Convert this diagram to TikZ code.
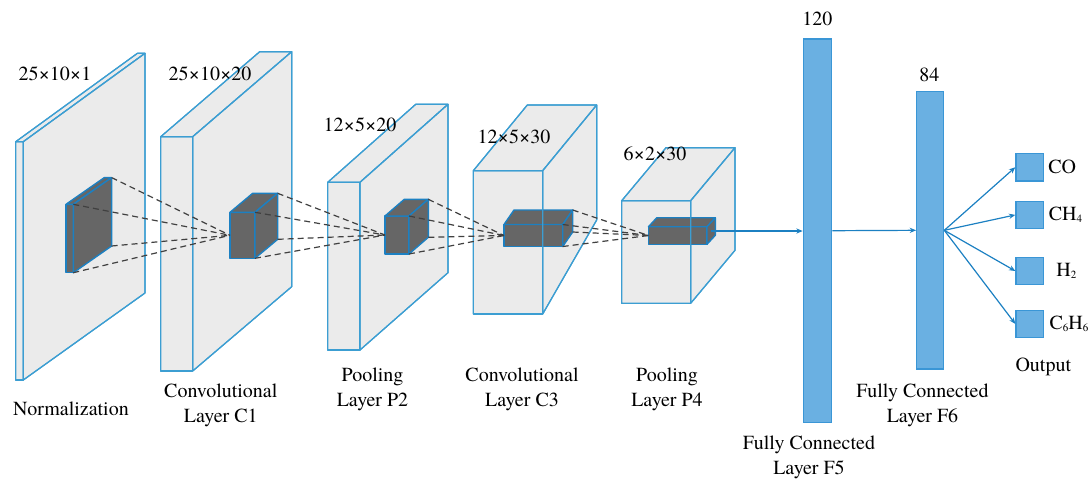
\documentclass[tikz,border=0pt]{standalone}
\usepackage{fontspec}
\setmainfont{texgyretermes}[Extension=.otf, UprightFont=*-regular, BoldFont=*-bold]
\usepackage{tikz}
\usetikzlibrary{calc}
\usetikzlibrary{arrows.meta}
\definecolor{edgeblue}{RGB}{60,158,210}
\definecolor{cubeblue}{RGB}{28,128,194}
\definecolor{fcblue}{RGB}{106,176,226}
\definecolor{fcedge}{RGB}{58,150,214}
\definecolor{slabgray}{RGB}{235,235,235}
\definecolor{kernelgray}{RGB}{102,102,102}
\newcommand{\px}{0.5pt}
\newcommand{\chemsub}[1]{\raisebox{-0.2ex}{\fontsize{5.5}{6}\selectfont #1}}
% #1 style, #2 name, #3 front top left, #4 front bottom right, #5/#6/#7 depth x, y top, y bottom
\newcommand{\cuboid}[7]{
    \coordinate (#2-ftl) at (#3);
    \coordinate (#2-fbr) at (#4);
    \coordinate (#2-ftr) at (#2-ftl -| #2-fbr);
    \coordinate (#2-fbl) at (#2-ftl |- #2-fbr);
    \coordinate (#2-btl) at ($(#2-ftl)+(#5,#6)$);
    \coordinate (#2-btr) at ($(#2-ftr)+(#5,#6)$);
    \coordinate (#2-bbr) at ($(#2-fbr)+(#5,#7)$);
    \coordinate (#2-w) at ($(#2-ftl)!0.5!(#2-fbl)$);
    \coordinate (#2-e) at ($(#2-ftr)!0.5!(#2-bbr)$);
    \path[#1] (#2-ftl) rectangle (#2-fbr);
    \path[#1] (#2-ftl) -- (#2-btl) -- (#2-btr) -- (#2-ftr) -- cycle;
    \path[#1] (#2-ftr) -- (#2-btr) -- (#2-bbr) -- (#2-fbr) -- cycle;
}
\newcommand{\cuboidedges}[2]{
    \draw[#1] (#2-ftl) rectangle (#2-fbr)
        (#2-ftl) -- (#2-btl) -- (#2-btr) -- (#2-bbr) -- (#2-fbr)
        (#2-ftr) -- (#2-btr);
}
\tikzset{
    slab/.style={fill=slabgray, draw=edgeblue, line width=0.6pt, line join=round},
    slabedge/.style={edgeblue, line width=0.6pt, line join=round},
    kernel/.style={fill=kernelgray, draw=cubeblue, line width=0.7pt, line join=round},
    link/.style={dash pattern=on 3pt off 2pt, black!75, line width=0.6pt},
    fc/.style={draw=fcedge, fill=fcblue, rectangle, inner sep=0pt, line width=0.6pt},
    outbox/.style={fc, minimum size=27.5*\px},
    flow/.style={-{Stealth[length=3.2pt,width=2.6pt]}, cubeblue, line width=0.6pt},
    caption/.style={align=center, font=\fontsize{10}{12.5}\selectfont, inner sep=0pt},
    species/.style={anchor=west, font=\fontsize{10}{12}\selectfont, inner sep=0pt}
}

\begin{document}
\begin{tikzpicture}[x=\px, y=-\px]
    \useasboundingbox (0,0) rectangle (1089,479);

    % feature maps and kernels
    \cuboid{slab}{b1}{15.7,141.7}{23.3,380}{121.7}{-88.4}{-87}
    \cuboid{kernel}{k1}{66,204.3}{73.3,272.7}{38.3}{-26.7}{-26.7}
    \cuboidedges{slabedge}{b1}

    \cuboid{slab}{b2}{160.7,136.7}{192.7,371}{99}{-85}{-84.3}
    \cuboid{kernel}{k2}{230,212.3}{255,258.3}{22.7}{-19}{-19}
    \cuboidedges{slabedge}{b2}

    \cuboid{slab}{b3}{327.7,182.3}{360,350}{88}{-78}{-77.3}
    \cuboid{kernel}{k3}{385,216}{409,254}{19.3}{-16.7}{-16.7}
    \cuboidedges{slabedge}{b3}

    \cuboid{slab}{b4}{473.3,170.7}{542.7,314}{54}{-65.7}{-94}
    \cuboid{kernel}{k4}{504,224.5}{562.7,246.5}{10}{-14.5}{-14.5}
    \cuboidedges{slabedge}{b4}

    \cuboid{slab}{b5}{621.7,200.7}{690.7,303.3}{44.3}{-53}{-53}
    \cuboid{kernel}{k5}{648.5,226.7}{707,244.3}{8.3}{-9}{-9}
    \cuboidedges{slabedge}{b5}

    \foreach \a/\b in {k1/k2, k2/k3, k3/k4, k4/k5}
        \foreach \c in {btr, ftr, bbr, fbr}
            \draw[link] (\a-\c) -- (\b-w);

    % fully connected layers
    \node[fc, minimum width=28.4*\px, minimum height=383.3*\px] (f5) at (817.5,230.7) {};
    \node[fc, minimum width=27*\px, minimum height=277.3*\px] (f6) at (930.2,230.3) {};

    \node[outbox] (co) at (1029.7,167.2) {};
    \node[outbox] (ch4) at (1029.7,214.9) {};
    \node[outbox] (h2) at (1029.7,271) {};
    \node[outbox] (c6h6) at (1029.7,323.9) {};

    \draw[flow] (k5-e) -- (k5-e -| f5.west);
    \draw[flow] (f5.east) -- (f6.west);
    \foreach \o in {co, ch4, h2, c6h6}
        \draw[flow] (f6.east) -- (\o.west);

    \node[species] (colabel) at ([xshift=2pt]co.east) {CO};
    \node[species] (ch4label) at ([xshift=2.2pt]ch4.east) {CH\chemsub{4}};
    \node[species] (h2label) at ([xshift=6pt]h2.east) {H\chemsub{2}};
    \node[species] (c6h6label) at ([xshift=2.6pt]c6h6.east) {C\chemsub{6}H\chemsub{6}};

    % sizes
    \node[caption] (dim1) at (55,73.3) {25×10×1};
    \node[caption] (dim2) at (210,74) {25×10×20};
    \node[caption] (dim3) at (360,125) {12×5×20};
    \node[caption] (dim4) at (514,136.7) {12×5×30};
    \node[caption] (dim5) at (655,153.3) {6×2×30};
    \node[caption] (dim6) at (817.3,19.3) {120};
    \node[caption] (dim7) at (929.3,75) {84};

    % layer names
    \node[caption] (norm) at (71,408.3) {Normalization};
    \node[caption] (conv1) at (220.8,405.8) {Convolutional\\Layer C1};
    \node[caption] (pool2) at (372.5,389.2) {Pooling\\Layer P2};
    \node[caption] (conv3) at (522,389.2) {Convolutional\\Layer C3};
    \node[caption] (pool4) at (667,389.5) {Pooling\\Layer P4};
    \node[caption] (full5) at (809,457.2) {Fully Connected\\Layer F5};
    \node[caption] (full6) at (922.5,405.8) {Fully Connected\\Layer F6};
    \node[caption] (outname) at (1043.3,366.7) {Output};
\end{tikzpicture}
\end{document}
